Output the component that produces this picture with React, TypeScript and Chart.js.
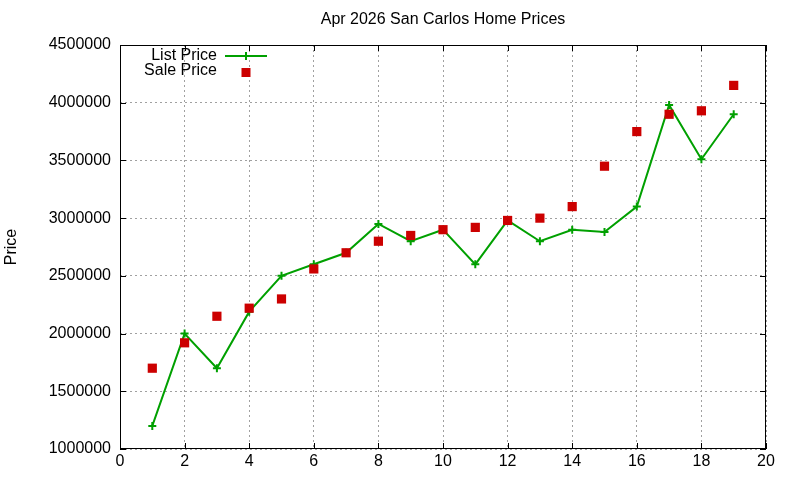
import { useEffect, useRef } from "react";
import { Chart, registerables } from "chart.js";

Chart.register(...registerables);

const title = "Apr 2026 San Carlos Home Prices";
const yTitle = "Price";

const months = [1, 2, 3, 4, 5, 6, 7, 8, 9, 10, 11, 12, 13, 14, 15, 16, 17, 18, 19];
const listPrice = [
  1200000, 2000000, 1700000, 2190000, 2500000, 2600000, 2700000, 2950000, 2800000, 2900000,
  2600000, 2980000, 2800000, 2900000, 2880000, 3100000, 3980000, 3510000, 3900000,
];
const salePrice = [
  1700000, 1920000, 2150000, 2220000, 2300000, 2560000, 2700000, 2800000, 2850000, 2900000,
  2920000, 2980000, 3000000, 3100000, 3450000, 3750000, 3900000, 3930000, 4150000,
];

const GREEN = "#00a000";
const RED = "#cc0000";
const FONT = "'Liberation Sans', Arial, sans-serif";

// gnuplot-like frame, inward tick marks, title and a key inside the plot
const gnuplotFrame = {
  id: "gnuplotFrame",
  afterDraw(chart: any) {
    const { ctx, chartArea: a, scales } = chart;
    ctx.save();
    ctx.strokeStyle = "#000";
    ctx.lineWidth = 1;
    ctx.strokeRect(a.left + 0.5, a.top + 0.5, a.right - a.left - 1, a.bottom - a.top - 1);

    const len = 6;
    ctx.beginPath();
    scales.x.ticks.forEach((t: any) => {
      const px = Math.round(scales.x.getPixelForValue(t.value)) + 0.5;
      ctx.moveTo(px, a.bottom);
      ctx.lineTo(px, a.bottom - len);
      ctx.moveTo(px, a.top);
      ctx.lineTo(px, a.top + len);
    });
    scales.y.ticks.forEach((t: any) => {
      const py = Math.round(scales.y.getPixelForValue(t.value)) + 0.5;
      ctx.moveTo(a.left, py);
      ctx.lineTo(a.left + len, py);
      ctx.moveTo(a.right, py);
      ctx.lineTo(a.right - len, py);
    });
    ctx.stroke();

    ctx.font = `16px ${FONT}`;
    ctx.fillStyle = "#000";
    ctx.textAlign = "center";
    ctx.textBaseline = "middle";
    ctx.fillText(title, (a.left + a.right) / 2, 20);

    // key
    ctx.textAlign = "right";
    const textX = a.left + 97;
    const sampleX = a.left + 126;
    const rows = [a.top + 11, a.top + 26];
    chart.data.datasets.forEach((ds: any) => {
      const y = rows[ds.label === "List Price" ? 0 : 1];
      ctx.fillText(ds.label, textX, y);
      if (ds.showLine !== false) {
        ctx.strokeStyle = ds.borderColor;
        ctx.lineWidth = 2;
        ctx.beginPath();
        ctx.moveTo(sampleX - 21, y);
        ctx.lineTo(sampleX + 21, y);
        ctx.moveTo(sampleX, y - 4);
        ctx.lineTo(sampleX, y + 4);
        ctx.stroke();
      } else {
        ctx.fillStyle = ds.backgroundColor;
        ctx.fillRect(sampleX - 4.5, y - 3, 9, 9);
        ctx.fillStyle = "#000";
      }
    });
    ctx.restore();
  },
};

export default function App() {
  const ref = useRef<HTMLCanvasElement>(null);

  useEffect(() => {
    if (!ref.current) return;
    const chart = new Chart(ref.current, {
      type: "line",
      data: {
        datasets: [
          {
            label: "Sale Price",
            data: months.map((m, i) => ({ x: m, y: salePrice[i] })),
            showLine: false,
            pointStyle: "rect",
            pointRadius: 6.5,
            borderWidth: 0,
            pointBorderWidth: 0,
            borderColor: RED,
            backgroundColor: RED,
            order: 0,
          },
          {
            label: "List Price",
            data: months.map((m, i) => ({ x: m, y: listPrice[i] })),
            borderColor: GREEN,
            backgroundColor: GREEN,
            borderWidth: 2,
            pointStyle: "cross",
            pointRadius: 4,
            pointBorderWidth: 2,
            tension: 0,
            order: 1,
          },
        ],
      },
      options: {
        responsive: false,
        animation: false,
        layout: { padding: { left: 0, right: 34, top: 45, bottom: 0 } },
        plugins: {
          legend: { display: false },
          tooltip: { enabled: false },
          title: { display: false },
        },
        scales: {
          x: {
            type: "linear",
            min: 0,
            max: 20,
            border: { display: false, dash: [2, 3] },
            grid: { color: "#a0a0a0", drawTicks: false },
            ticks: {
              stepSize: 2,
              padding: 3,
              color: "#000",
              font: { family: FONT, size: 16 },
            },
            afterFit: (s: any) => {
              s.height = 31;
            },
          },
          y: {
            min: 1000000,
            max: 4500000,
            border: { display: false, dash: [2, 3] },
            grid: { color: "#a0a0a0", drawTicks: false },
            ticks: {
              stepSize: 500000,
              padding: 9,
              color: "#000",
              font: { family: FONT, size: 16 },
              callback: (v: any) => String(v),
            },
            title: {
              display: true,
              text: yTitle,
              color: "#000",
              font: { family: FONT, size: 16 },
              padding: { top: 2, bottom: 0 },
            },
            afterFit: (s: any) => {
              s.width = 120;
            },
          },
        },
      },
      plugins: [gnuplotFrame],
    });
    return () => {
      chart.destroy();
    };
  }, []);

  return (
    <div style={{ position: "absolute", left: 0, top: 0, width: 800, height: 480, background: "#fff" }}>
      <canvas ref={ref} width={800} height={480} />
    </div>
  );
}
